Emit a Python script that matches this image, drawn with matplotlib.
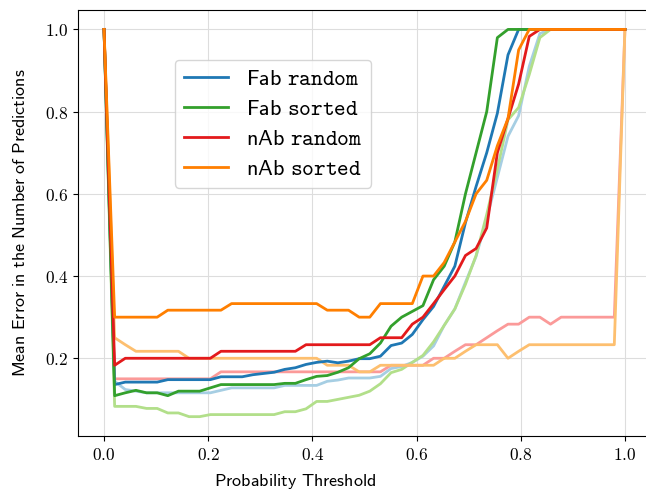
import numpy as np
import matplotlib
matplotlib.use('Agg')
import matplotlib.pyplot as plt
from matplotlib.ticker import FuncFormatter

plt.rcParams['mathtext.fontset'] = 'cm'

# soglie di probabilita' (50 punti tra 0 e 1)
thresholds = np.linspace(0, 1, 50)

# curve principali (colori scuri)
fab_random = [1.0, 0.136, 0.142, 0.142, 0.142, 0.142, 0.148, 0.148, 0.148, 0.148,
              0.148, 0.155, 0.155, 0.155, 0.16, 0.163, 0.166, 0.173, 0.177, 0.185,
              0.19, 0.193, 0.189, 0.193, 0.199, 0.199, 0.205, 0.231, 0.237, 0.258,
              0.294, 0.326, 0.375, 0.424, 0.53, 0.618, 0.70, 0.796, 0.938, 1.0,
              1.0, 1.0, 1.0, 1.0, 1.0, 1.0, 1.0, 1.0, 1.0, 1.0]
fab_sorted = [1.0, 0.109, 0.116, 0.122, 0.116, 0.116, 0.109, 0.12, 0.12, 0.12,
              0.128, 0.136, 0.136, 0.136, 0.136, 0.136, 0.136, 0.139, 0.139, 0.148,
              0.156, 0.158, 0.166, 0.177, 0.199, 0.211, 0.237, 0.278, 0.30, 0.314,
              0.328, 0.391, 0.424, 0.483, 0.60, 0.70, 0.80, 0.98, 1.0, 1.0,
              1.0, 1.0, 1.0, 1.0, 1.0, 1.0, 1.0, 1.0, 1.0, 1.0]
nab_random = [1.0, 0.183, 0.2, 0.2, 0.2, 0.2, 0.2, 0.2, 0.2, 0.2,
              0.2, 0.217, 0.217, 0.217, 0.217, 0.217, 0.217, 0.217, 0.217, 0.233,
              0.233, 0.233, 0.233, 0.233, 0.233, 0.233, 0.25, 0.25, 0.25, 0.283,
              0.3, 0.333, 0.367, 0.40, 0.45, 0.467, 0.517, 0.70, 0.783, 0.867,
              0.983, 1.0, 1.0, 1.0, 1.0, 1.0, 1.0, 1.0, 1.0, 1.0]
nab_sorted = [1.0, 0.3, 0.3, 0.3, 0.3, 0.3, 0.317, 0.317, 0.317, 0.317,
              0.317, 0.317, 0.333, 0.333, 0.333, 0.333, 0.333, 0.333, 0.333, 0.333,
              0.333, 0.317, 0.317, 0.317, 0.3, 0.3, 0.333, 0.333, 0.333, 0.333,
              0.4, 0.4, 0.433, 0.483, 0.533, 0.6, 0.633, 0.717, 0.783, 0.95,
              1.0, 1.0, 1.0, 1.0, 1.0, 1.0, 1.0, 1.0, 1.0, 1.0]

# curve secondarie (colori chiari)
fab_random_light = [1.0, 0.144, 0.124, 0.12, 0.116, 0.116, 0.116, 0.116, 0.116, 0.116,
                    0.116, 0.122, 0.128, 0.128, 0.128, 0.128, 0.128, 0.134, 0.134, 0.134,
                    0.134, 0.144, 0.147, 0.152, 0.152, 0.152, 0.156, 0.175, 0.18, 0.19,
                    0.205, 0.23, 0.28, 0.32, 0.385, 0.448, 0.54, 0.64, 0.74, 0.79,
                    0.91, 0.99, 1.0, 1.0, 1.0, 1.0, 1.0, 1.0, 1.0, 1.0]
fab_sorted_light = [1.0, 0.083, 0.083, 0.083, 0.078, 0.078, 0.067, 0.067, 0.058, 0.058,
                    0.063, 0.063, 0.063, 0.063, 0.063, 0.063, 0.063, 0.07, 0.07, 0.077,
                    0.095, 0.095, 0.1, 0.105, 0.11, 0.12, 0.138, 0.165, 0.173, 0.19,
                    0.207, 0.24, 0.28, 0.32, 0.38, 0.45, 0.55, 0.66, 0.78, 0.81,
                    0.89, 0.98, 1.0, 1.0, 1.0, 1.0, 1.0, 1.0, 1.0, 1.0]
nab_random_light = [1.0, 0.15, 0.15, 0.15, 0.15, 0.15, 0.15, 0.15, 0.15, 0.15,
                    0.15, 0.167, 0.167, 0.167, 0.167, 0.167, 0.167, 0.167, 0.167, 0.167,
                    0.167, 0.167, 0.167, 0.167, 0.167, 0.167, 0.167, 0.183, 0.183, 0.183,
                    0.183, 0.2, 0.2, 0.217, 0.233, 0.233, 0.25, 0.267, 0.283, 0.283,
                    0.3, 0.3, 0.283, 0.3, 0.3, 0.3, 0.3, 0.3, 0.3, 1.0]
nab_sorted_light = [1.0, 0.25, 0.233, 0.217, 0.217, 0.217, 0.217, 0.217, 0.2, 0.2,
                    0.2, 0.2, 0.2, 0.2, 0.2, 0.2, 0.2, 0.2, 0.2, 0.2,
                    0.2, 0.183, 0.183, 0.183, 0.167, 0.167, 0.183, 0.183, 0.183, 0.183,
                    0.183, 0.183, 0.2, 0.2, 0.217, 0.233, 0.233, 0.233, 0.2, 0.217,
                    0.233, 0.233, 0.233, 0.233, 0.233, 0.233, 0.233, 0.233, 0.233, 1.0]

labels = [r'$\mathsf{Fab}\ \mathtt{random}$', r'$\mathsf{Fab}\ \mathtt{sorted}$',
          r'$\mathsf{nAb}\ \mathtt{random}$', r'$\mathsf{nAb}\ \mathtt{sorted}$']
dark = [fab_random, fab_sorted, nab_random, nab_sorted]
light = [fab_random_light, fab_sorted_light, nab_random_light, nab_sorted_light]

paired = plt.get_cmap('Paired').colors
dark_colors = [paired[1], paired[3], paired[5], paired[7]]
light_colors = [paired[0], paired[2], paired[4], paired[6]]

fig = plt.figure(figsize=(6.46, 4.93), dpi=100)
ax = fig.add_axes([0.1207, 0.1156, 0.887, 0.864])

for values, color in zip(light, light_colors):
    ax.plot(thresholds, values, color=color, linewidth=2)
for values, color, label in zip(dark, dark_colors, labels):
    ax.plot(thresholds, values, color=color, linewidth=2, label=label)

ax.xaxis.set_major_formatter(FuncFormatter(lambda v, p: f'${v:.1f}$'))
ax.yaxis.set_major_formatter(FuncFormatter(lambda v, p: f'${v:.1f}$'))
ax.tick_params(labelsize=12.5)

ax.set_xlabel(r'$\mathsf{Probability\ Threshold}$', fontsize=13, labelpad=9)
ax.xaxis.set_label_coords(0.379, -0.085)
ax.set_ylabel(r'$\mathsf{Mean\ Error\ in\ the\ Number\ of\ Predictions}$', fontsize=13, labelpad=11)
ax.grid(True, color='#dddddd', linewidth=0.8)

ax.legend(loc='upper left', bbox_to_anchor=(0.169, 0.883), borderaxespad=0,
          fontsize=16, handlelength=2.0, labelspacing=0.45)

plt.savefig('out.png', dpi=100)
